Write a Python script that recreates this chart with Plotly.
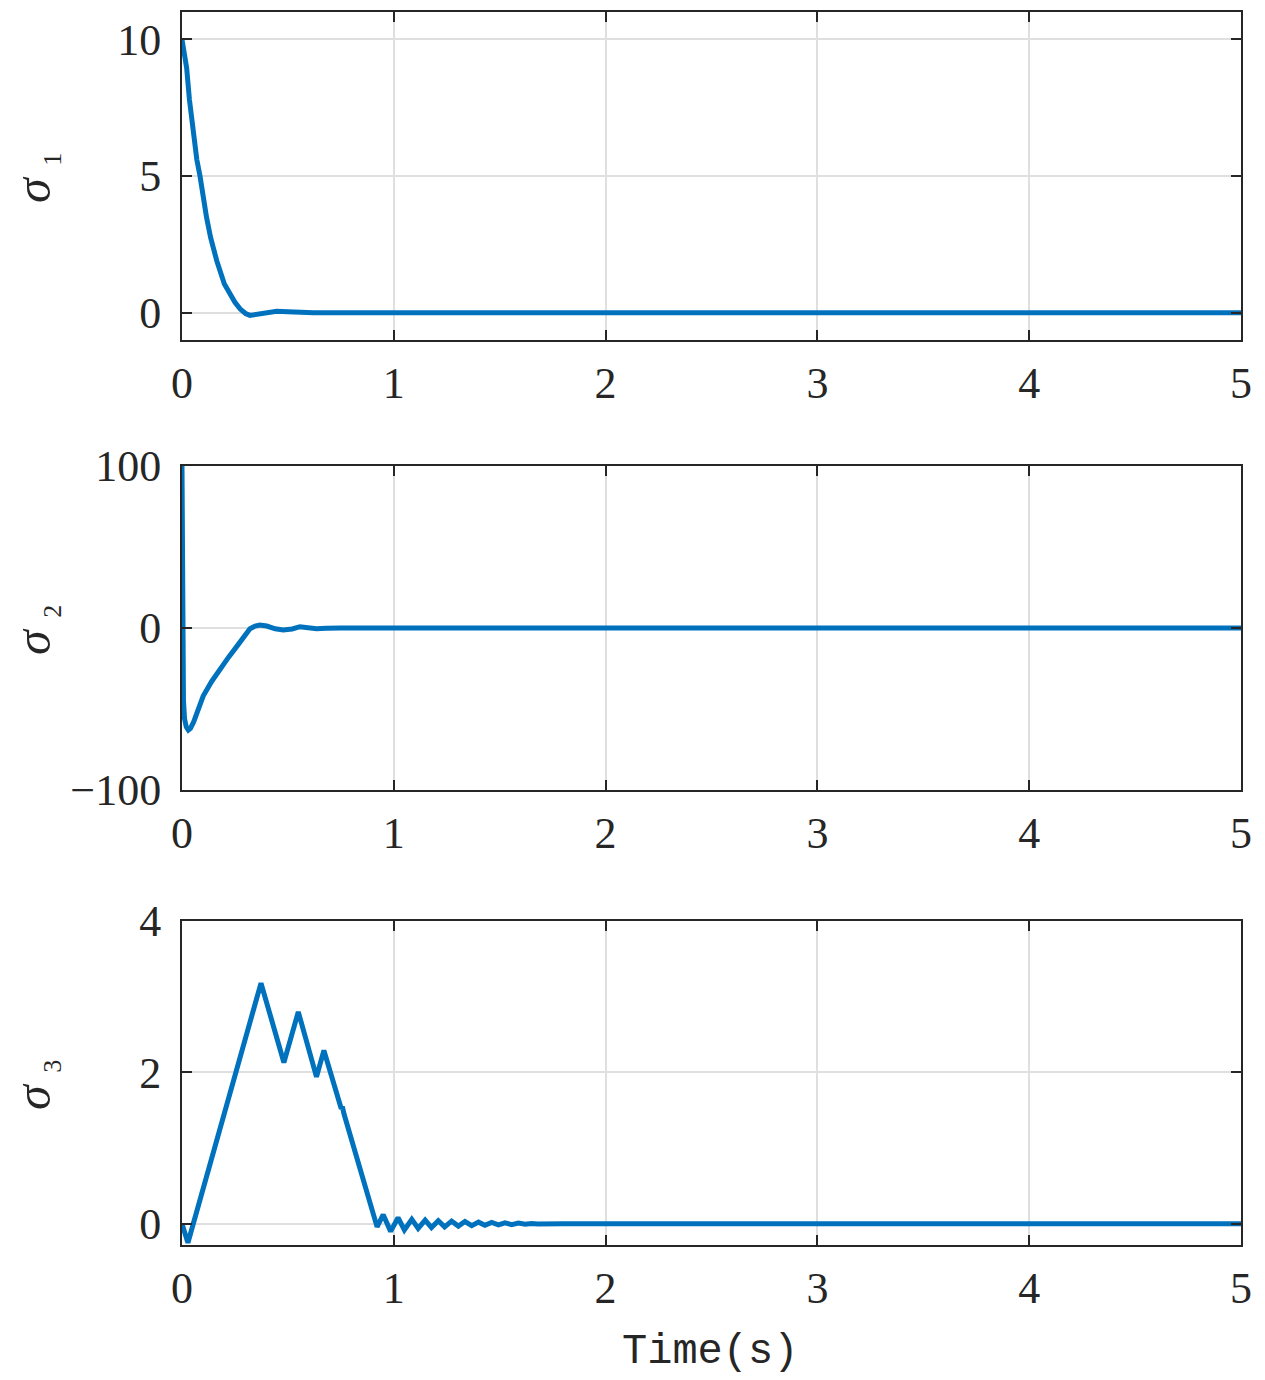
import plotly.graph_objects as go
from plotly.subplots import make_subplots

# sigma_1 response
t1 = [0, 0.01, 0.022, 0.035, 0.053, 0.07, 0.085, 0.1, 0.116, 0.135, 0.164, 0.2,
      0.226, 0.25, 0.274, 0.3, 0.321, 0.345, 0.375, 0.41, 0.447, 0.5, 0.56, 0.62, 5.0]
s1 = [10, 9.55, 8.95, 7.8, 6.52, 5.6, 5.0, 4.2, 3.48, 2.75, 1.9, 1.05,
      0.68, 0.38, 0.14, -0.03, -0.1, -0.08, -0.03, 0.02, 0.05, 0.03, 0.0, 0.0, 0.0]

# sigma_2 response
t2 = [0, 0.002, 0.004, 0.007, 0.012, 0.02, 0.03, 0.04, 0.055, 0.075, 0.1, 0.14,
      0.179, 0.22, 0.258, 0.29, 0.321, 0.345, 0.368, 0.4, 0.44, 0.478, 0.52,
      0.557, 0.6, 0.635, 0.68, 0.75, 5.0]
s2 = [100, 30, -20, -45, -56, -61, -63, -62, -58, -50, -42, -33,
      -25, -18, -11.5, -5.5, -0.5, 1.2, 1.85, 1.2, -0.5, -1.2, -0.6,
      0.8, 0.3, -0.5, -0.2, 0.0, 0.0]

# sigma_3 response
t3 = [0, 0.028, 0.373, 0.481, 0.549, 0.635, 0.670, 0.745, 0.752, 0.757, 0.765,
      0.921, 0.950, 0.985, 1.02, 1.05, 1.085, 1.115, 1.148, 1.178, 1.21, 1.24,
      1.273, 1.305, 1.336, 1.368, 1.40, 1.43, 1.462, 1.494, 1.525, 1.556, 1.588,
      1.62, 1.65, 1.68, 1.72, 1.8, 5.0]
s3 = [0, -0.25, 3.18, 2.13, 2.80, 1.94, 2.29, 1.58, 1.52, 1.55, 1.45,
      -0.04, 0.12, -0.10, 0.08, -0.08, 0.06, -0.06, 0.05, -0.05, 0.04, -0.04,
      0.035, -0.03, 0.03, -0.025, 0.022, -0.02, 0.018, -0.015, 0.013, -0.011, 0.009,
      -0.007, 0.005, -0.004, 0.002, 0.0, 0.0]

x_ticks = [0, 1, 2, 3, 4, 5]
y_ticks = [[0, 5, 10], [-100, 0, 100], [0, 2, 4]]
y_ranges = [[-1, 11], [-100, 100], [-0.28, 4]]
y_labels = ["1", "2", "3"]

W, H = 1265, 1380
OFF = 8  # page body margin
# axes boxes in page pixels: (top, bottom)
boxes = [(12, 340), (466, 790), (921, 1245)]
x_dom = [(182 - OFF) / W, (1241 - OFF) / W]

fig = make_subplots(rows=3, cols=1)

for i, (t, s) in enumerate([(t1, s1), (t2, s2), (t3, s3)]):
    fig.add_trace(
        go.Scatter(x=t, y=s, mode="lines",
                   line=dict(color="#0072BD", width=5),
                   showlegend=False),
        row=i + 1, col=1
    )

axis_common = dict(
    showline=True, linecolor="#262626", linewidth=2, mirror="ticks",
    ticks="inside", ticklen=10, tickwidth=2, tickcolor="#262626",
    showgrid=True, gridcolor="#dfdfdf", gridwidth=2, zeroline=False,
    tickfont=dict(family="Liberation Serif", size=44, color="#262626"),
)

for i, (top, bot) in enumerate(boxes):
    fig.update_xaxes(
        domain=x_dom, range=[0, 5], tickvals=x_ticks, ticklabelstandoff=3,
        **axis_common, row=i + 1, col=1
    )
    fig.update_yaxes(
        domain=[1 - (bot - OFF) / H, 1 - (top - OFF) / H], range=y_ranges[i],
        tickvals=y_ticks[i], ticklabelstandoff=10,
        **axis_common, row=i + 1, col=1
    )
    fig.add_annotation(
        text="<i>σ</i> <sub><span style='font-size:26px'>%s</span></sub>" % y_labels[i],
        xref="paper", yref="paper",
        x=(36 - OFF) / W, y=1 - ((top + bot) / 2 + 2 - OFF) / H, textangle=-90,
        showarrow=False, xanchor="center", yanchor="middle",
        font=dict(family="Liberation Serif", size=50, color="#262626")
    )

fig.add_annotation(
    text="Time(s)", xref="paper", yref="paper",
    x=(710 - OFF) / W, y=1 - (1352 - OFF) / H, showarrow=False,
    xanchor="center", yanchor="middle",
    font=dict(family="Liberation Mono", size=42, color="#262626")
)

fig.update_layout(
    template="none",
    width=W, height=H,
    margin=dict(l=0, r=0, t=0, b=0),
    plot_bgcolor="white", paper_bgcolor="white",
)

fig.write_html("out.html")
